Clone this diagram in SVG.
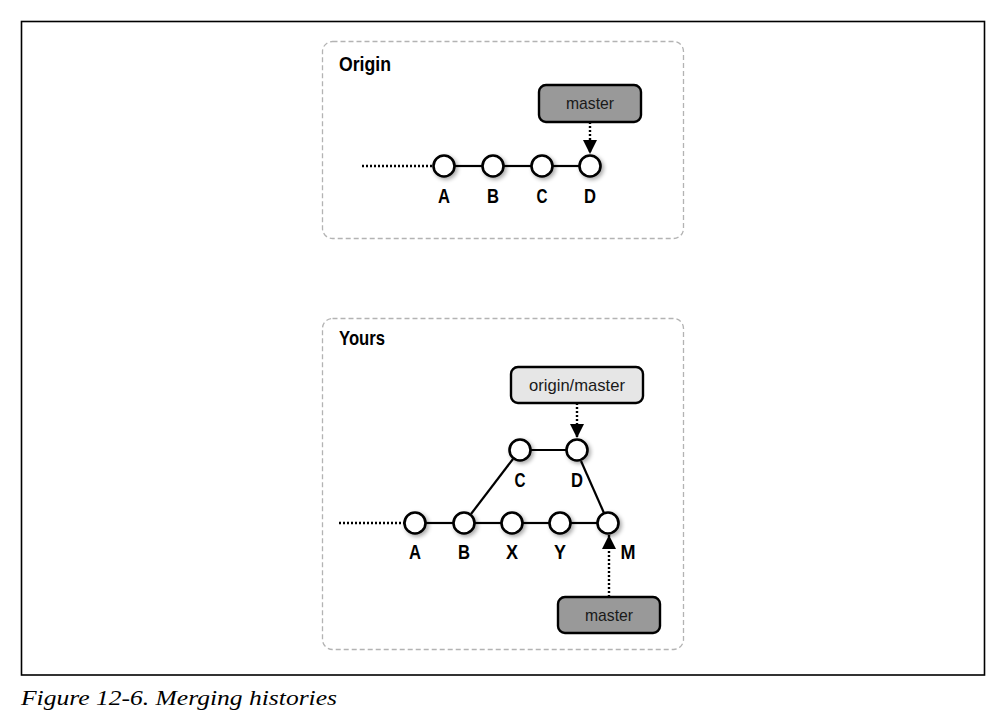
<svg xmlns="http://www.w3.org/2000/svg" width="1006" height="728" viewBox="0 0 1006 728">
<style>
.panel{fill:#fff;stroke:#b3b3b3;stroke-width:1.3;stroke-dasharray:5 3}
.commit{fill:#fff;stroke:#000;stroke-width:2.6}
.edge{stroke:#000;stroke-width:2.2;fill:none}
.dots{stroke:#000;stroke-width:2.4;fill:none;stroke-dasharray:2 2}
.lbl{font-family:"Liberation Sans",Arial,sans-serif;font-weight:bold;font-size:21px;fill:#000;text-anchor:middle}
.title{font-family:"Liberation Sans",Arial,sans-serif;font-weight:bold;font-size:21px;fill:#000}
.ref{stroke:#000;stroke-width:2.4}
.reftxt{font-family:"Liberation Sans",Arial,sans-serif;font-size:17px;fill:#1a1a1a;text-anchor:middle}
.cap{font-family:"Liberation Serif","Times New Roman",serif;font-style:italic;font-size:21px;fill:#000}
</style>
<defs>
<marker id="ah2" viewBox="0 0 18 14" refX="14" refY="7" markerWidth="18" markerHeight="14" markerUnits="userSpaceOnUse" orient="auto">
<path d="M0,0 L14,7 L0,14 z" fill="#000"/>
</marker>
<filter id="sh" x="-50%" y="-50%" width="200%" height="200%">
<feGaussianBlur in="SourceAlpha" stdDeviation="2"/>
<feOffset dx="2" dy="2" result="b"/>
<feComponentTransfer><feFuncA type="linear" slope="0.35"/></feComponentTransfer>
<feMerge><feMergeNode/><feMergeNode in="SourceGraphic"/></feMerge>
</filter>
</defs>
<rect width="1006" height="728" fill="#fff"/>
<rect x="21.5" y="21.5" width="963" height="653.5" fill="none" stroke="#000" stroke-width="1.6"/>

<g id="panel-origin">
<rect class="panel" x="322.5" y="41.5" width="361" height="197" rx="10"/>
<text class="title" x="339" y="71" textLength="52" lengthAdjust="spacingAndGlyphs">Origin</text>
</g>
<g id="panel-yours">
<rect class="panel" x="322.5" y="318.5" width="361" height="331" rx="10"/>
<text class="title" x="339" y="345" textLength="46" lengthAdjust="spacingAndGlyphs">Yours</text>
</g>

<g id="connectors">
<line class="dots" x1="362" y1="166" x2="433" y2="166"/>
<line class="edge" x1="455" y1="166" x2="482" y2="166"/>
<line class="edge" x1="504" y1="166" x2="531" y2="166"/>
<line class="edge" x1="553" y1="166" x2="579" y2="166"/>
<line class="dots" x1="590" y1="122" x2="590" y2="154" marker-end="url(#ah2)"/>

<line class="dots" x1="339" y1="523" x2="404" y2="523"/>
<line class="edge" x1="426" y1="523" x2="453" y2="523"/>
<line class="edge" x1="475" y1="523" x2="501" y2="523"/>
<line class="edge" x1="523" y1="523" x2="549" y2="523"/>
<line class="edge" x1="571" y1="523" x2="597" y2="523"/>
<line class="edge" x1="471" y1="514" x2="513" y2="459"/>
<line class="edge" x1="531" y1="450" x2="566" y2="450"/>
<line class="edge" x1="581" y1="461" x2="604" y2="513"/>
<line class="dots" x1="577" y1="403" x2="577" y2="438" marker-end="url(#ah2)"/>
<line class="dots" x1="609" y1="597" x2="609" y2="535" marker-end="url(#ah2)"/>
</g>

<g id="origin-master">
<rect class="ref" x="539" y="85" width="102" height="37" rx="7" fill="#999"/>
<text class="reftxt" x="590" y="109" textLength="48" lengthAdjust="spacingAndGlyphs">master</text>
</g>
<g id="o-A"><circle class="commit" cx="444" cy="166" r="10.5" filter="url(#sh)"/><text class="lbl" x="444" y="203" textLength="12" lengthAdjust="spacingAndGlyphs">A</text></g>
<g id="o-B"><circle class="commit" cx="493" cy="166" r="10.5" filter="url(#sh)"/><text class="lbl" x="493" y="203" textLength="12" lengthAdjust="spacingAndGlyphs">B</text></g>
<g id="o-C"><circle class="commit" cx="542" cy="166" r="10.5" filter="url(#sh)"/><text class="lbl" x="542" y="203" textLength="11" lengthAdjust="spacingAndGlyphs">C</text></g>
<g id="o-D"><circle class="commit" cx="590" cy="166" r="10.5" filter="url(#sh)"/><text class="lbl" x="590" y="203" textLength="12" lengthAdjust="spacingAndGlyphs">D</text></g>

<g id="origin-master-ref">
<rect class="ref" x="511" y="367" width="132" height="36" rx="7" fill="#e6e6e6"/>
<text class="reftxt" x="577" y="391" textLength="96" lengthAdjust="spacingAndGlyphs">origin/master</text>
</g>
<g id="y-C"><circle class="commit" cx="520" cy="450" r="10.5" filter="url(#sh)"/><text class="lbl" x="520" y="487" textLength="11" lengthAdjust="spacingAndGlyphs">C</text></g>
<g id="y-D"><circle class="commit" cx="577" cy="450" r="10.5" filter="url(#sh)"/><text class="lbl" x="577" y="487" textLength="12" lengthAdjust="spacingAndGlyphs">D</text></g>
<g id="y-A"><circle class="commit" cx="415" cy="523" r="10.5" filter="url(#sh)"/><text class="lbl" x="415" y="559" textLength="12" lengthAdjust="spacingAndGlyphs">A</text></g>
<g id="y-B"><circle class="commit" cx="464" cy="523" r="10.5" filter="url(#sh)"/><text class="lbl" x="464" y="559" textLength="12" lengthAdjust="spacingAndGlyphs">B</text></g>
<g id="y-X"><circle class="commit" cx="512" cy="523" r="10.5" filter="url(#sh)"/><text class="lbl" x="512" y="559" textLength="12" lengthAdjust="spacingAndGlyphs">X</text></g>
<g id="y-Y"><circle class="commit" cx="560" cy="523" r="10.5" filter="url(#sh)"/><text class="lbl" x="560" y="559" textLength="12" lengthAdjust="spacingAndGlyphs">Y</text></g>
<g id="y-M"><circle class="commit" cx="608" cy="523" r="10.5" filter="url(#sh)"/><text class="lbl" x="628" y="559" textLength="15" lengthAdjust="spacingAndGlyphs">M</text></g>
<g id="yours-master">
<rect class="ref" x="558" y="597" width="102" height="36" rx="7" fill="#999"/>
<text class="reftxt" x="609" y="621" textLength="48" lengthAdjust="spacingAndGlyphs">master</text>
</g>

<text class="cap" x="21" y="705" textLength="316" lengthAdjust="spacingAndGlyphs">Figure 12-6. Merging histories</text>
</svg>
